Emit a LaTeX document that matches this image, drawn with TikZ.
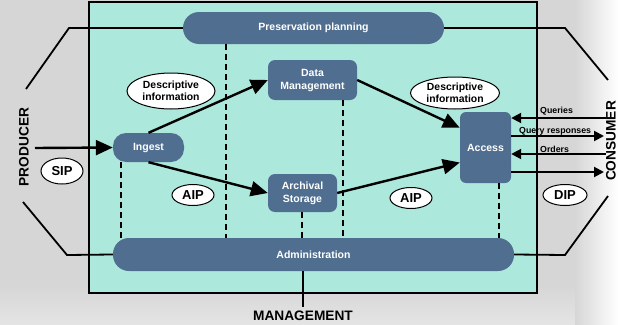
\documentclass[tikz,border=0pt]{standalone}
\usepackage{fontspec}
\setmainfont{Liberation Sans}
\usetikzlibrary{arrows.meta,shapes.geometric,calc}
\definecolor{nodeblue}{RGB}{80,110,143}
\definecolor{tealbg}{RGB}{173,232,220}
\definecolor{graybg}{RGB}{214,214,214}
\definecolor{graylt}{RGB}{228,228,228}
\begin{document}
\begin{tikzpicture}[x=1pt,y=-1pt,
  box/.style={rectangle,fill=nodeblue,text=white,font=\fontsize{10.5}{13}\selectfont\bfseries,align=center,inner sep=0pt},
  ell/.style={ellipse,draw=black,line width=1pt,fill=white,inner sep=0pt,align=center},
  flow/.style={line width=2.4pt,-{Triangle[length=17pt,width=15pt]}},
  io/.style={line width=2pt,-{Triangle[length=10pt,width=10pt]}},
  mgmt/.style={line width=1.8pt},
  dashline/.style={line width=1.8pt,dash pattern=on 6pt off 4pt},
  small/.style={font=\fontsize{8.8}{10}\selectfont\bfseries,inner sep=0pt,anchor=west},
  big/.style={font=\fontsize{13.7}{15}\selectfont\bfseries,inner sep=0pt},
  ]
\useasboundingbox (0,0) rectangle (618,324);
% background
\fill[graybg] (0,0) rectangle (618,324);
\shade[top color=graybg,bottom color=graylt] (0,285) rectangle (618,324);
\shade[left color=graybg,right color=white] (575,0) rectangle (618,324);
% main box
\draw[line width=2pt,fill=tealbg] (89,2) rectangle (537,293);

% nodes
\node[box,minimum width=261pt,minimum height=32pt,rounded corners=16pt] (pp) at (313.5,28) {Preservation planning};
\node[box,minimum width=89pt,minimum height=40pt,rounded corners=7pt] (dm) at (312.5,80) {Data\\Management};
\node[box,minimum width=69pt,minimum height=38pt,rounded corners=7pt] (as) at (302.5,193) {Archival\\Storage};
\node[box,minimum width=71pt,minimum height=29pt,rounded corners=13pt] (ing) at (148.5,147.5) {Ingest};
\node[box,minimum width=51pt,minimum height=71pt,rounded corners=6pt] (acc) at (485.5,147.5) {Access};
\node[box,minimum width=401pt,minimum height=33pt,rounded corners=16pt] (adm) at (313.5,254.5) {Administration};

% ellipses
\node[ell,minimum width=88pt,minimum height=36pt,font=\fontsize{10.4}{12.5}\selectfont\bfseries] (d1) at (171,91) {Descriptive\\information};
\node[ell,minimum width=89pt,minimum height=32pt,font=\fontsize{10.4}{12.5}\selectfont\bfseries] (d2) at (455,93) {Descriptive\\information};
\node[ell,minimum width=42pt,minimum height=26pt,font=\fontsize{13}{15}\selectfont\bfseries] (sip) at (62,171) {SIP};
\node[ell,minimum width=42pt,minimum height=21pt,font=\fontsize{13}{15}\selectfont\bfseries] (aip1) at (193,195) {AIP};
\node[ell,minimum width=42pt,minimum height=21pt,font=\fontsize{13}{15}\selectfont\bfseries] (aip2) at (411,198) {AIP};
\node[ell,minimum width=44pt,minimum height=21pt,font=\fontsize{13}{15}\selectfont\bfseries] (dip) at (565,195) {DIP};

% coordinates
\coordinate (xpp) at (226,0);
\coordinate (xing) at (121,0);
\coordinate (xdm) at (343,0);
\coordinate (xas) at (302,0);
\coordinate (xacc) at (499,0);
\coordinate (ppl1) at (69,28);
\coordinate (ppl2) at (26,89);
\coordinate (ppr1) at (565,28);
\coordinate (ppr2) at (608,80);
\coordinate (adl1) at (67,255);
\coordinate (adl2) at (23,202);
\coordinate (adr1) at (565,255);
\coordinate (adr2) at (608,196);
\coordinate (mg) at (303,307);
\coordinate (sipin) at (35,148);
\coordinate (qin) at (606,118);
\coordinate (qout) at (604,136);
\coordinate (oin) at (606,154);
\coordinate (dout) at (604,172);

% dashed lines
\draw[dashline] (pp.south -| xpp) -- (adm.north -| xpp);
\draw[dashline] (ing.south -| xing) -- (adm.north -| xing);
\draw[dashline] (dm.south -| xdm) -- (adm.north -| xdm);
\draw[dashline] (as.south -| xas) -- (adm.north -| xas);
\draw[dashline] (acc.south -| xacc) -- (adm.north -| xacc);

% management lines
\draw[mgmt] (pp.west) -- (ppl1) -- (ppl2);
\draw[mgmt] (pp.east) -- (ppr1) -- (ppr2);
\draw[mgmt] (adm.west) -- (adl1) -- (adl2);
\draw[mgmt] (adm.east) -- (adr1) -- (adr2);
\draw[mgmt] (adm.south -| mg) -- (mg);

% flows
\draw[flow] (ing.north) -- (dm.west);
\draw[flow] (ing.south) -- (as.west);
\draw[flow] (dm.east) -- ($(acc.north west)+(0,16)$);
\draw[flow] (as.east) -- ($(acc.west)+(0,15)$);
\draw[flow] (sipin) -- (ing.west);

% consumer io
\draw[io] (qin) -- (acc.east |- qin);
\draw[io] (acc.east |- qout) -- (qout);
\draw[io] (oin) -- (acc.east |- oin);
\draw[io] (acc.east |- dout) -- (dout);
\node[small] (lq) at (540,111) {Queries};
\node[small] (lr) at (519,131) {Query responses};
\node[small] (lo) at (540,149) {Orders};

% big labels
\node[big,rotate=90] (prod) at (24,147) {PRODUCER};
\node[big,rotate=90] (cons) at (611,141) {CONSUMER};
\node[big] (mgt) at (303,316) {MANAGEMENT};
\end{tikzpicture}
\end{document}
